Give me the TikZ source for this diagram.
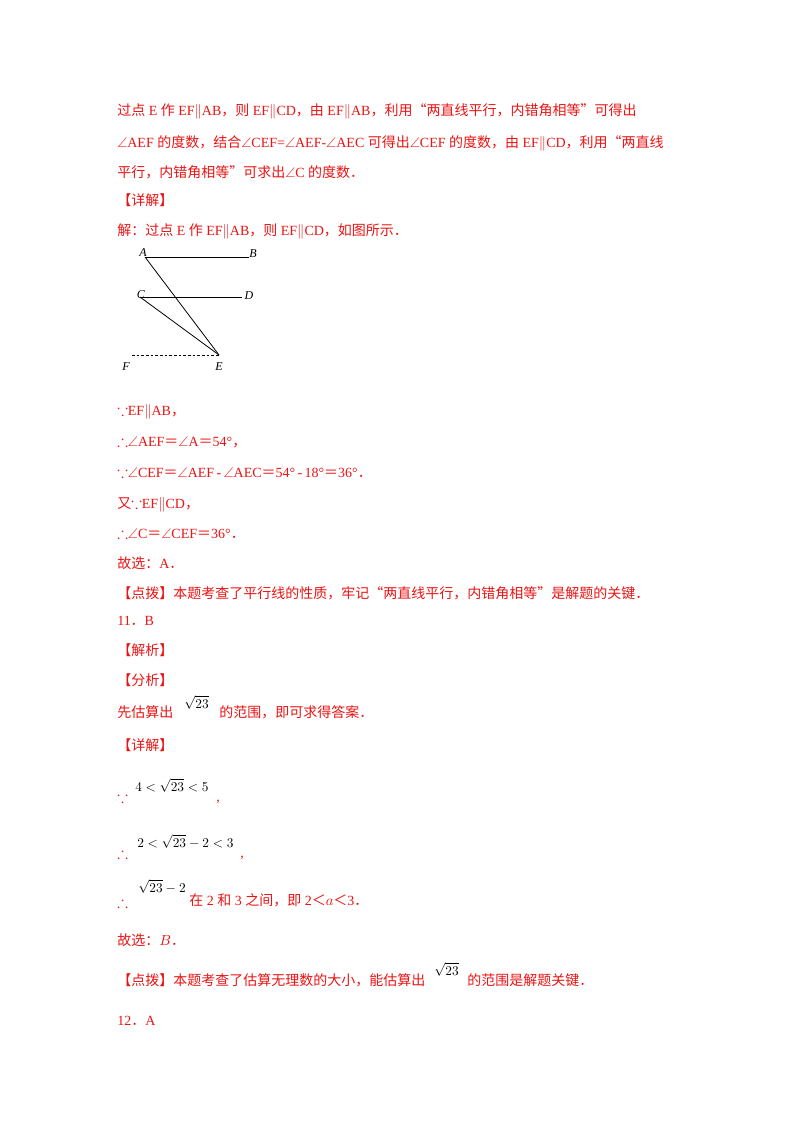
\documentclass[tikz,border=0pt]{standalone}
\usepackage{amssymb}
\usepackage{fontspec}
\setmainfont{Liberation Serif}
\newfontfamily\cjk{Noto Sans CJK SC}
\newcommand\zh[1]{{\cjk #1}}
\newcommand\bec{{\large$\because$}}
\newcommand\thr{{\large$\therefore$}}
\definecolor{rd}{RGB}{235,20,20}
\begin{document}
\begin{tikzpicture}[x=0.75pt,y=-0.75pt,
  t/.style={anchor=base west,inner sep=0,text=rd,font=\fontsize{10.5pt}{12pt}\selectfont},
  m/.style={anchor=base west,inner sep=0,text=black,font=\fontsize{10pt}{12pt}\selectfont},
  lb/.style={inner sep=0,text=black,font=\fontsize{9pt}{10pt}\selectfont\itshape},
  seg/.style={black,line width=0.6pt}]
\useasboundingbox[fill=white] (0,0) rectangle (800,1132);
\node[t] (l1) at (117,115) {\zh{过点} E \zh{作} EF$\parallel$AB\zh{，则} EF$\parallel$CD\zh{，由} EF$\parallel$AB\zh{，利用“两直线平行，内错角相等”可得出}};
\node[t] (l2) at (117,147) {$\angle$AEF \zh{的度数，结合}$\angle$CEF=$\angle$AEF-$\angle$AEC \zh{可得出}$\angle$CEF \zh{的度数，由} EF$\parallel$CD\zh{，利用“两直线}};
\node[t] (l3) at (117,177) {\zh{平行，内错角相等”可求出}$\angle$C \zh{的度数．}};
\node[t] (l4) at (117,205) {\zh{【详解】}};
\node[t] (l5) at (117,235) {\zh{解：过点} E \zh{作} EF$\parallel$AB\zh{，则} EF$\parallel$CD\zh{，如图所示．}};
% figure
\coordinate (A) at (145,257); \coordinate (B) at (249,257);
\coordinate (C) at (140,297); \coordinate (D) at (242,297);
\coordinate (E) at (219,355); \coordinate (F) at (132,355);
\draw[seg] (A)--(B); \draw[seg] (C)--(D);
\draw[seg] (A)--(E); \draw[seg] (C)--(E);
\draw[seg,dashed,dash pattern=on 2pt off 1.5pt] (F)--(E);
\node[lb] (nA) at (143,253) {A}; \node[lb] (nB) at (253,254) {B};
\node[lb] (nC) at (141,295) {C}; \node[lb] (nD) at (249,296) {D};
\node[lb] (nF) at (126,367) {F}; \node[lb] (nE) at (219,367) {E};
\node[t] (l6) at (117,415) {\bec EF$\parallel$AB\zh{，}};
\node[t] (l7) at (117,446) {\thr$\angle$AEF\zh{＝}$\angle$A\zh{＝}54°\zh{，}};
\node[t] (l8) at (117,477) {\bec$\angle$CEF\zh{＝}$\angle$AEF\,-\,$\angle$AEC\zh{＝}54°\,-\,18°\zh{＝}36°\zh{．}};
\node[t] (l9) at (117,508) {\zh{又}\bec EF$\parallel$CD\zh{，}};
\node[t] (l10) at (117,538) {\thr$\angle$C\zh{＝}$\angle$CEF\zh{＝}36°\zh{．}};
\node[t] (l11) at (117,568) {\zh{故选：}A\zh{．}};
\node[t] (l12) at (117,598) {\zh{【点拨】本题考查了平行线的性质，牢记“两直线平行，内错角相等”是解题的关键．}};
\node[t] (l13) at (117,625) {11\zh{．}B};
\node[t] (l14) at (117,655) {\zh{【解析】}};
\node[t] (l15) at (117,685) {\zh{【分析】}};
\node[t] (l16) at (117,717) {\zh{先估算出}};
\node[m] (s16) at (184,708) {$\sqrt{23}$};
\node[t] (l16b) at (219,717) {\zh{的范围，即可求得答案．}};
\node[t] (l17) at (117,750) {\zh{【详解】}};
\node[t] (l18) at (117,802) {\bec};
\node[m] (s18) at (135,791) {$4<\sqrt{23}<5$};
\node[t] (l18b) at (216,801) {,};
\node[t] (l19) at (117,858) {\thr};
\node[m] (s19) at (137,847) {$2<\sqrt{23}-2<3$};
\node[t] (l19b) at (240,857) {,};
\node[t] (l20) at (117,907) {\thr};
\node[m] (s20) at (138,892) {$\sqrt{23}-2$};
\node[t] (l20b) at (189,905) {\zh{在} 2 \zh{和} 3 \zh{之间，即} 2\zh{＜}$a$\zh{＜}3\zh{．}};
\node[t] (l21) at (117,945) {\zh{故选：}$B$\zh{．}};
\node[t] (l22) at (117,985) {\zh{【点拨】本题考查了估算无理数的大小，能估算出}};
\node[m] (s22) at (434,975) {$\sqrt{23}$};
\node[t] (l22b) at (467,985) {\zh{的范围是解题关键．}};
\node[t] (l23) at (117,1025) {12\zh{．}A};
\end{tikzpicture}
\end{document}
